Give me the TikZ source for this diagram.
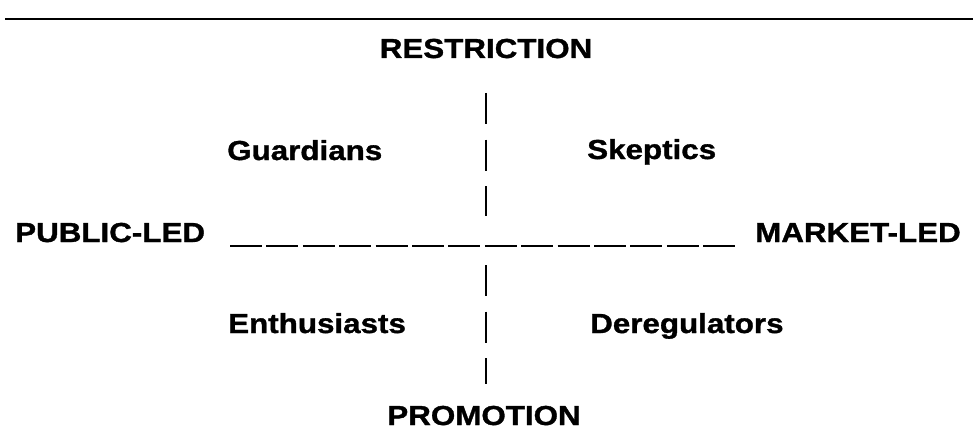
\documentclass[tikz,border=0pt]{standalone}
\usepackage{fontspec}
\newfontfamily\labfont{Liberation Sans}[FakeStretch=1.14,FakeBold=1.2]
\begin{document}
\begin{tikzpicture}[x=1pt,y=-1pt,
  lab/.style={inner sep=0pt, font=\labfont\bfseries\fontsize{27.5}{32}\selectfont},
  axis/.style={line width=2.8pt, black},
  vdash/.style={axis, dash pattern=on 31pt off 15.5pt},
  hdash/.style={line width=2.2pt, black, dash pattern=on 32pt off 4.4pt}]
\useasboundingbox (0,0) rectangle (973,433);
\draw[line width=2.5pt] (5,19) -- (973,19);
% titles
\node[lab, anchor=base] (restr) at (486,58) {RESTRICTION};
\node[lab, anchor=base] (promo) at (484,425) {PROMOTION};
\node[lab, anchor=base west] (public) at (15,242) {PUBLIC-LED};
\node[lab, anchor=base west] (market) at (755,242) {MARKET-LED};
\node[lab, anchor=base west] (guard) at (227,160) {Guardians};
\node[lab, anchor=base west] (skep) at (587,159) {Skeptics};
\node[lab, anchor=base west] (enth) at (228,333) {Enthusiasts};
\node[lab, anchor=base west] (dereg) at (590,333) {Deregulators};
% axes
\coordinate (vtop) at (486,93);
\coordinate (vmidA) at (486,216);
\coordinate (vmidB) at (486,265);
\coordinate (vbot) at (486,384);
\coordinate (hleft) at (230,246);
\coordinate (hright) at (735,246);
\draw[vdash] (vtop) -- (vmidA);
\draw[vdash] (vmidB) -- (vbot);
\draw[hdash] (hleft) -- (hright);
\end{tikzpicture}
\end{document}
